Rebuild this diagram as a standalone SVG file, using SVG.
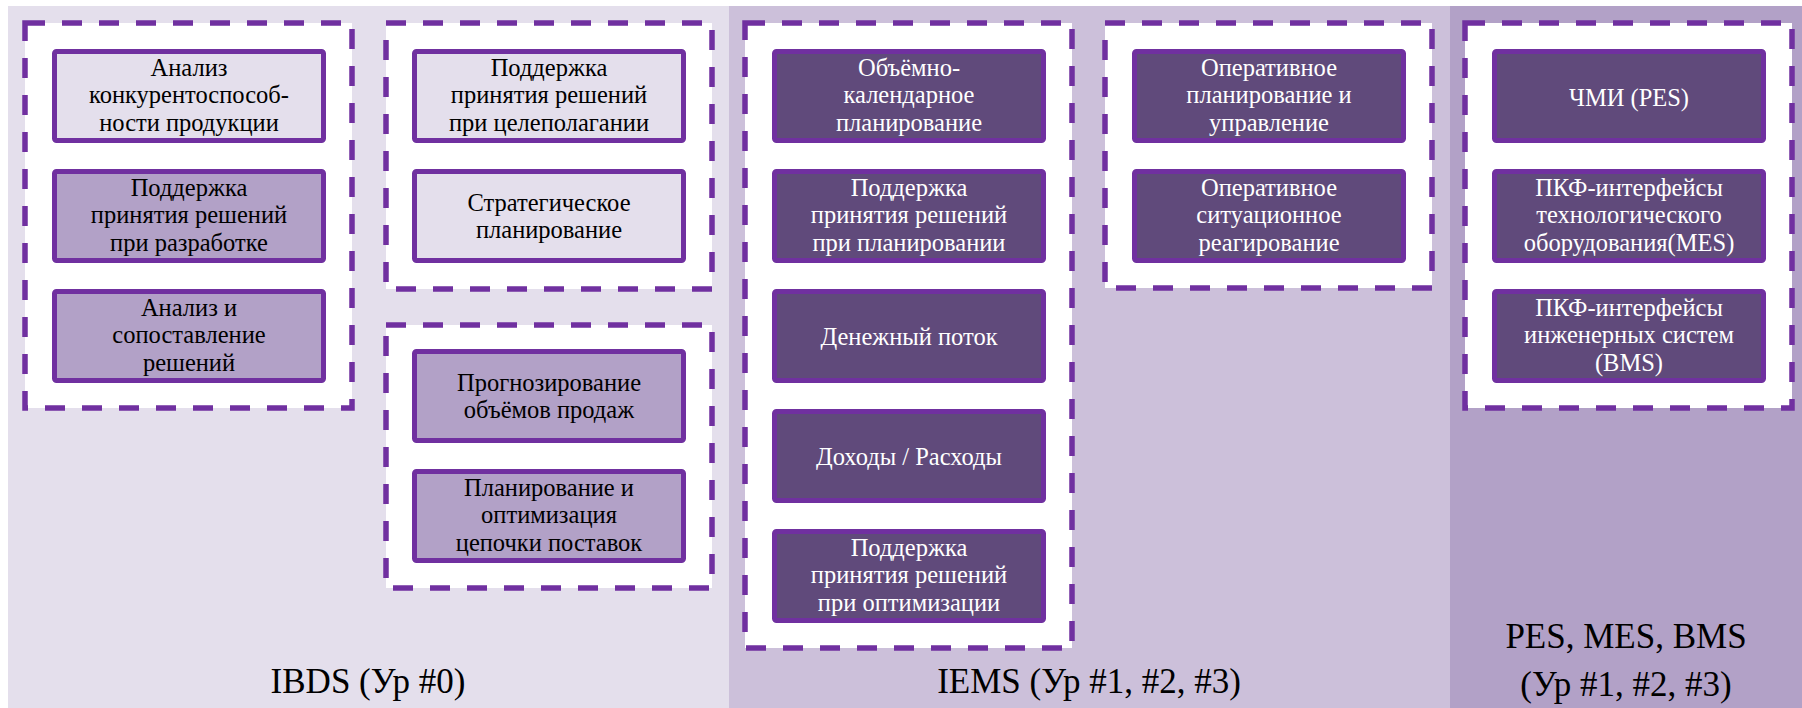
<svg xmlns="http://www.w3.org/2000/svg" width="1802" height="708" viewBox="0 0 1802 708">
<style>
.p1{fill:#E4DFEC}.p2{fill:#CCC0DA}.p3{fill:#B2A1C7}
.grp{fill:#FFFFFF;stroke:#7030A0;stroke-width:5.5;stroke-dasharray:20 17}
.n{stroke:#7030A0;stroke-width:5}
.lt{fill:#E4DFEC}.md{fill:#B2A1C7}.dk{fill:#604A7B}
text{font-family:"Liberation Serif","DejaVu Serif",serif;text-anchor:middle}
.t{font-size:24.5px;fill:#000}
.w{font-size:24.5px;fill:#FFFFFF}
.lbl{font-size:35px;fill:#000}
</style>
<g id="panels">
<rect class="p1" x="8" y="6" width="721" height="702"/>
<rect class="p2" x="729" y="6" width="721" height="702"/>
<rect class="p3" x="1450" y="6" width="352" height="702"/>
</g>
<g id="groups">
<rect class="grp" x="25" y="23" width="327" height="385"/>
<rect class="grp" x="386" y="23" width="326" height="266"/>
<rect class="grp" x="386" y="325" width="326" height="263"/>
<rect class="grp" x="745" y="23" width="327" height="625"/>
<rect class="grp" x="1105" y="23" width="327" height="265"/>
<rect class="grp" x="1465" y="23" width="327" height="385"/>
</g>
<g id="connectors"></g>
<g id="nA1"><rect class="n lt" x="54.5" y="51.5" width="269" height="89" rx="2"/><text class="t" x="189"><tspan x="189" y="76">Анализ</tspan><tspan x="189" y="103">конкурентоспособ-</tspan><tspan x="189" y="131">ности продукции</tspan></text></g>
<g id="nA2"><rect class="n md" x="54.5" y="171.5" width="269" height="89" rx="2"/><text class="t"><tspan x="189" y="196">Поддержка</tspan><tspan x="189" y="223">принятия решений</tspan><tspan x="189" y="251">при разработке</tspan></text></g>
<g id="nA3"><rect class="n md" x="54.5" y="291.5" width="269" height="89" rx="2"/><text class="t"><tspan x="189" y="316">Анализ и</tspan><tspan x="189" y="343">сопоставление</tspan><tspan x="189" y="371">решений</tspan></text></g>
<g id="nB1"><rect class="n lt" x="414.5" y="51.5" width="269" height="89" rx="2"/><text class="t"><tspan x="549" y="76">Поддержка</tspan><tspan x="549" y="103">принятия решений</tspan><tspan x="549" y="131">при целеполагании</tspan></text></g>
<g id="nB2"><rect class="n lt" x="414.5" y="171.5" width="269" height="89" rx="2"/><text class="t"><tspan x="549" y="211">Стратегическое</tspan><tspan x="549" y="238">планирование</tspan></text></g>
<g id="nC1"><rect class="n md" x="414.5" y="351.5" width="269" height="89" rx="2"/><text class="t"><tspan x="549" y="391">Прогнозирование</tspan><tspan x="549" y="418">объёмов продаж</tspan></text></g>
<g id="nC2"><rect class="n md" x="414.5" y="471.5" width="269" height="89" rx="2"/><text class="t"><tspan x="549" y="496">Планирование и</tspan><tspan x="549" y="523">оптимизация</tspan><tspan x="549" y="551">цепочки поставок</tspan></text></g>
<g id="nD1"><rect class="n dk" x="774.5" y="51.5" width="269" height="89" rx="2"/><text class="w"><tspan x="909" y="76">Объёмно-</tspan><tspan x="909" y="103">календарное</tspan><tspan x="909" y="131">планирование</tspan></text></g>
<g id="nD2"><rect class="n dk" x="774.5" y="171.5" width="269" height="89" rx="2"/><text class="w"><tspan x="909" y="196">Поддержка</tspan><tspan x="909" y="223">принятия решений</tspan><tspan x="909" y="251">при планировании</tspan></text></g>
<g id="nD3"><rect class="n dk" x="774.5" y="291.5" width="269" height="89" rx="2"/><text class="w" x="909" y="345">Денежный поток</text></g>
<g id="nD4"><rect class="n dk" x="774.5" y="411.5" width="269" height="89" rx="2"/><text class="w" x="909" y="465">Доходы / Расходы</text></g>
<g id="nD5"><rect class="n dk" x="774.5" y="531.5" width="269" height="89" rx="2"/><text class="w"><tspan x="909" y="556">Поддержка</tspan><tspan x="909" y="583">принятия решений</tspan><tspan x="909" y="611">при оптимизации</tspan></text></g>
<g id="nE1"><rect class="n dk" x="1134.5" y="51.5" width="269" height="89" rx="2"/><text class="w"><tspan x="1269" y="76">Оперативное</tspan><tspan x="1269" y="103">планирование и</tspan><tspan x="1269" y="131">управление</tspan></text></g>
<g id="nE2"><rect class="n dk" x="1134.5" y="171.5" width="269" height="89" rx="2"/><text class="w"><tspan x="1269" y="196">Оперативное</tspan><tspan x="1269" y="223">ситуационное</tspan><tspan x="1269" y="251">реагирование</tspan></text></g>
<g id="nF1"><rect class="n dk" x="1494.5" y="51.5" width="269" height="89" rx="2"/><text class="w" x="1629" y="106">ЧМИ (PES)</text></g>
<g id="nF2"><rect class="n dk" x="1494.5" y="171.5" width="269" height="89" rx="2"/><text class="w"><tspan x="1629" y="196">ПКФ-интерфейсы</tspan><tspan x="1629" y="223">технологического</tspan><tspan x="1629" y="251">оборудования(MES)</tspan></text></g>
<g id="nF3"><rect class="n dk" x="1494.5" y="291.5" width="269" height="89" rx="2"/><text class="w"><tspan x="1629" y="316">ПКФ-интерфейсы</tspan><tspan x="1629" y="343">инженерных систем</tspan><tspan x="1629" y="371">(BMS)</tspan></text></g>
<g id="labels">
<text class="lbl" x="368" y="693">IBDS (Ур #0)</text>
<text class="lbl" x="1089" y="693">IEMS (Ур #1, #2, #3)</text>
<text class="lbl"><tspan x="1626" y="648">PES, MES, BMS</tspan><tspan x="1626" y="696">(Ур #1, #2, #3)</tspan></text>
</g>
</svg>
